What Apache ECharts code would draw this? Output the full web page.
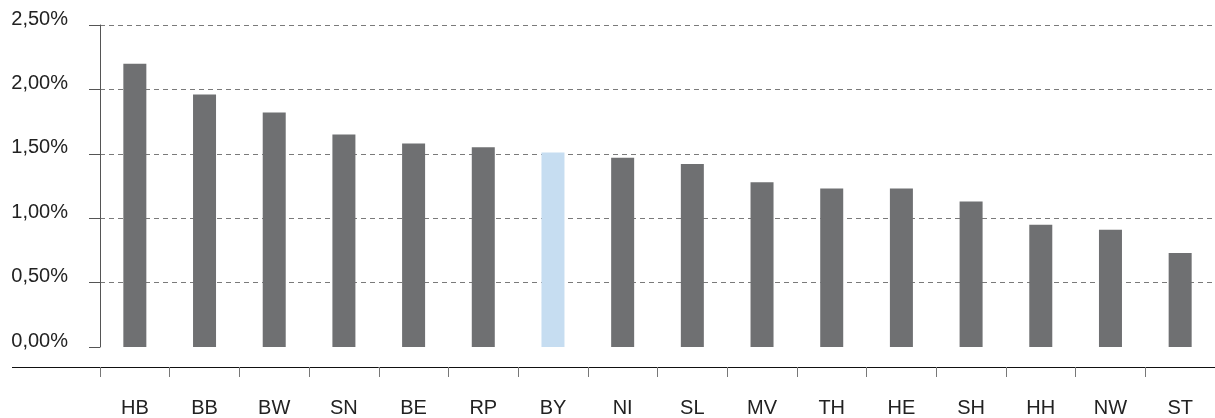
<!DOCTYPE html>
<html>
<head>
<meta charset="utf-8">
<script src="https://cdn.jsdelivr.net/npm/echarts@6/dist/echarts.min.js"></script>
</head>
<body style="margin:0;background:#fff;">

<div id="main" style="width: 1215px;height:418px;"></div>

<script type="text/javascript">
    // Bundesländer und Werte in Prozent
    var laender = ['HB', 'BB', 'BW', 'SN', 'BE', 'RP', 'BY', 'NI', 'SL', 'MV', 'TH', 'HE', 'SH', 'HH', 'NW', 'ST'];
    var werte = [2.20, 1.96, 1.82, 1.65, 1.58, 1.55, 1.51, 1.47, 1.42, 1.28, 1.23, 1.23, 1.13, 0.95, 0.91, 0.73];
    var hervorgehoben = 'BY';

    var grau = '#6f7072';
    var hellblau = '#c6ddf1';

    var myChart = echarts.init(document.getElementById('main'));

    var option = {
        animation: false,
        textStyle: {fontFamily: 'Liberation Sans, Arial, sans-serif'},
        grid: {
            left: 100,
            top: 25,
            width: 1118,
            height: 322
        },
        xAxis: {
            type: 'category',
            data: laender,
            offset: 20,
            axisLine: {show: true, onZero: false, lineStyle: {color: '#111', width: 1}},
            axisTick: {
                show: true,
                length: 10,
                lineStyle: {color: '#777', width: 1}
            },
            axisLabel: {
                color: '#222',
                fontSize: 20,
                margin: 31
            }
        },
        yAxis: {
            type: 'value',
            min: 0,
            max: 2.5,
            interval: 0.5,
            axisLine: {show: true, lineStyle: {color: '#555', width: 1}},
            axisTick: {show: true, length: 11, lineStyle: {color: '#555'}},
            axisLabel: {
                color: '#222',
                fontSize: 20,
                margin: 32,
                verticalAlign: 'bottom',
                lineHeight: 12,
                formatter: function (v) {
                    return v.toFixed(2).replace('.', ',') + '%';
                }
            },
            splitLine: {
                show: true,
                showMinLine: false,
                lineStyle: {color: '#7a7a7a', type: [5, 4], width: 1}
            }
        },
        graphic: [
            {
                type: 'line',
                shape: {x1: 12, y1: 367.5, x2: 100, y2: 367.5},
                style: {stroke: '#111', lineWidth: 1}
            }
        ],
        series: [
            {
                type: 'bar',
                barWidth: 23,
                data: werte.map(function (v, i) {
                    return {
                        value: v,
                        itemStyle: {color: laender[i] === hervorgehoben ? hellblau : grau}
                    };
                })
            }
        ]
    };

    myChart.setOption(option);
</script>
</body>
</html>
